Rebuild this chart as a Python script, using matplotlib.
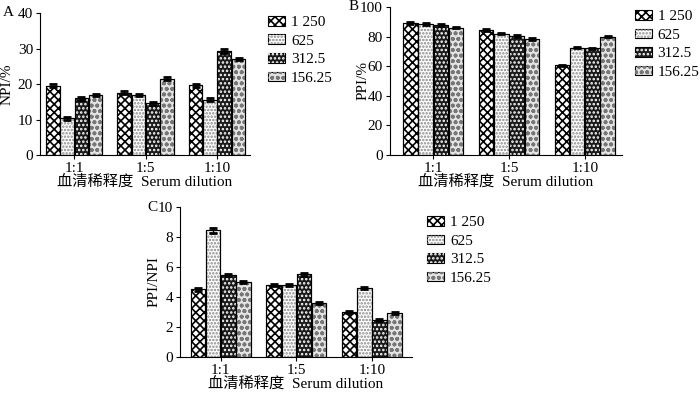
import matplotlib
matplotlib.use('Agg')
import matplotlib.pyplot as plt
import numpy as np

plt.rcParams['font.family'] = ['Liberation Serif', 'Noto Sans CJK SC']
plt.rcParams['font.size'] = 10
plt.rcParams['hatch.linewidth'] = 1.2

groups = ['1:1', '1:5', '1:10']
series = ['1 250', '625', '312.5', '156.25']

npi = [[19.5, 17.6, 19.6],
       [10.3, 16.9, 15.6],
       [16.0, 14.6, 29.3],
       [17.0, 21.5, 27.0]]
npi_err = [[0.4, 0.4, 0.4],
           [0.3, 0.3, 0.4],
           [0.4, 0.4, 0.6],
           [0.3, 0.4, 0.3]]

ppi = [[89.0, 84.5, 60.5],
       [88.5, 82.0, 72.5],
       [88.0, 80.5, 72.0],
       [86.0, 78.5, 80.0]]
ppi_err = [[0.6, 0.6, 0.6],
           [0.5, 0.5, 0.5],
           [0.6, 0.6, 0.6],
           [0.5, 0.5, 0.6]]

ratio = [[4.5, 4.8, 3.0],
         [8.45, 4.8, 4.6],
         [5.45, 5.5, 2.45],
         [5.0, 3.6, 2.95]]
ratio_err = [[0.08, 0.08, 0.08],
             [0.18, 0.06, 0.08],
             [0.08, 0.1, 0.06],
             [0.08, 0.08, 0.06]]

# face colour, hatch colour, hatch pattern
styles = [('white', 'black', 'xxxx'),
          ('white', '#888888', '.....'),
          ('#1a1a1a', 'white', '....'),
          ('#e4e4e4', '#777777', 'ooo')]

fig = plt.figure(figsize=(7, 3.93), dpi=100)


def panel(rect, vals, errs, ylim, yticks, ylabel, xlim, legpos, ylab_x):
    ax = fig.add_axes(rect)
    x = np.arange(len(groups))
    w = 0.2
    handles = []
    for i, (v, e) in enumerate(zip(vals, errs)):
        fc, hc, h = styles[i]
        pos = x - 0.3 + i * w
        b = ax.bar(pos, v, w * 0.95, color=fc, edgecolor='black', linewidth=0.8, zorder=2)
        hb = ax.bar(pos, v, w * 0.95, fill=False, edgecolor=hc, hatch=h, linewidth=0, zorder=3)
        ax.bar(pos, v, w * 0.95, fill=False, edgecolor='black', linewidth=0.8, zorder=4)
        ax.errorbar(pos, v, yerr=e, fmt='none', ecolor='black', elinewidth=1,
                    capsize=3, capthick=2, zorder=5)
        handles.append((b[0], hb[0]))
    ax.set_xlim(*xlim)
    ax.set_ylim(*ylim)
    ax.set_yticks(yticks)
    ax.set_xticks(x)
    ax.set_xticklabels(groups)
    for s in ['top', 'right']:
        ax.spines[s].set_visible(False)
    ax.tick_params(direction='out', length=3, labelsize=11, pad=2)
    ax.set_ylabel(ylabel, fontsize=11, va='center')
    ax.yaxis.set_label_coords(ylab_x, 0.5)
    ax.set_xlabel('血清稀释度  Serum dilution', fontsize=11, labelpad=0)
    ax.legend(handles, series, loc='upper left', bbox_to_anchor=legpos, frameon=False,
              fontsize=11, handlelength=1.1, handleheight=0.6, handletextpad=0.4,
              labelspacing=0.35, borderaxespad=0, borderpad=0)
    return ax


panel([0.0571, 0.6056, 0.30, 0.3613], npi, npi_err, (0, 40), [0, 10, 20, 30, 40],
      'NPI/%', (-0.48, 2.46), (1.086, 0.98), -0.155)
panel([0.5571, 0.6056, 0.3314, 0.3766], ppi, ppi_err, (0, 100), [0, 20, 40, 60, 80, 100],
      'PPI/%', (-0.57, 2.49), (1.055, 0.98), -0.118)
panel([0.2571, 0.0916, 0.3314, 0.3817], ratio, ratio_err, (0, 10), [0, 2, 4, 6, 8, 10],
      'PPI/NPI', (-0.54, 2.53), (1.065, 0.94), -0.11)

fig.text(3 / 700, 1 - 13 / 393, 'A', fontsize=11, va='center', ha='left')
fig.text(349 / 700, 1 - 7 / 393, 'B', fontsize=11, va='center', ha='left')
fig.text(147 / 700, 1 - 208 / 393, 'C', fontsize=11, va='center', ha='left')

fig.savefig('out.png', dpi=100)
